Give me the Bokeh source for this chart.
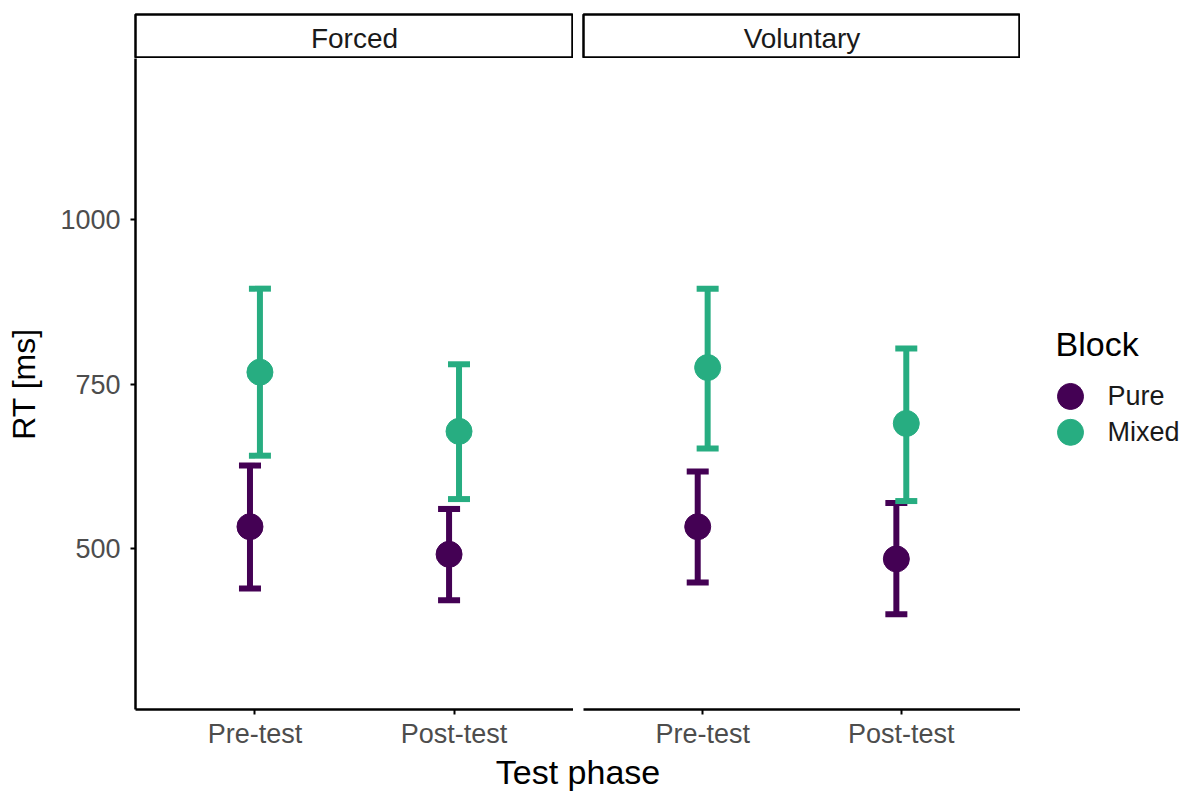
from bokeh.plotting import figure
from bokeh.models import (ColumnDataSource, Range1d, FactorRange, FixedTicker,
                          Whisker, TeeHead)
from bokeh.transform import dodge
from bokeh.layouts import column, row
from bokeh.embed import file_html
from bokeh.resources import INLINE
from bokeh.core.properties import value

# ---------------- data ----------------
phases = ["Pre-test", "Post-test"]
conditions = ["Forced", "Voluntary"]
blocks = ["Pure", "Mixed"]
block_colors = ["#440154", "#27AD81"]

forced_pure_mean = [533, 491]
forced_pure_lower = [439, 421]
forced_pure_upper = [626, 560]
forced_mixed_mean = [768, 678]
forced_mixed_lower = [641, 575]
forced_mixed_upper = [895, 780]

voluntary_pure_mean = [533, 484]
voluntary_pure_lower = [448, 400]
voluntary_pure_upper = [617, 569]
voluntary_mixed_mean = [775, 690]
voluntary_mixed_lower = [652, 572]
voluntary_mixed_upper = [895, 804]

y_ticks = [500, 750, 1000]
y_limits = [300, 1200]
x_title = "Test phase"
y_title = "RT [ms]"
legend_title = "Block"

series = {
    ("Forced", "Pure"): (forced_pure_mean, forced_pure_lower, forced_pure_upper),
    ("Forced", "Mixed"): (forced_mixed_mean, forced_mixed_lower, forced_mixed_upper),
    ("Voluntary", "Pure"): (voluntary_pure_mean, voluntary_pure_lower, voluntary_pure_upper),
    ("Voluntary", "Mixed"): (voluntary_mixed_mean, voluntary_mixed_lower, voluntary_mixed_upper),
}

# ---------------- layout / style ----------------
FONT = "Liberation Sans"
LEFT = 135
PANEL1_W = 438
GAP = 10
PANEL2_W = 437
RIGHT = 167
STRIP_TOP = 14
STRIP_H = 44
PANEL_H = 653
AXIS_H = 40
XLAB_H = 40
DODGE = {"Pure": -0.025, "Mixed": 0.025}
TICK_COL = "#4D4D4D"
MARKER = 26
# legend geometry (screen px inside the legend area)
LEG_X_TITLE = 35
LEG_X_KEY = 50
LEG_X_LABEL = 87
LEG_Y_FIRST = 339      # first key centre, px below the panel top
LEG_ROW = 36           # px between keys
LEG_TITLE_DY = -52     # title offset from first key, px

span = y_limits[1] - y_limits[0]
y_lo = y_limits[0] - 0.05 * span
y_hi = y_limits[1] + 0.05 * span


def make_strip(cond, first):
    w = LEFT + PANEL1_W if first else GAP + PANEL2_W
    s = figure(width=w, height=STRIP_TOP + STRIP_H,
               x_range=FactorRange(factors=[cond]), y_range=FactorRange(factors=[cond]),
               output_backend="svg", toolbar_location=None, title=None,
               x_axis_location=None, y_axis_location=None,
               min_border_left=LEFT if first else GAP,
               min_border_right=0, min_border_top=STRIP_TOP, min_border_bottom=0)
    s.grid.visible = False
    s.outline_line_color = "black"
    s.outline_line_width = 2.5
    s.text(x=[cond], y=[cond], text=[cond], text_align="center", text_baseline="middle",
           y_offset=2, text_font=value(FONT), text_font_size="28px", text_color="#1A1A1A")
    return s


def make_panel(cond, first):
    w = LEFT + PANEL1_W if first else GAP + PANEL2_W
    p = figure(width=w, height=PANEL_H + AXIS_H,
               x_range=FactorRange(factors=phases, range_padding=0.1,
                                   range_padding_units="absolute"),
               y_range=Range1d(y_lo, y_hi),
               output_backend="svg", toolbar_location=None, title=None,
               y_axis_location="left" if first else None,
               min_border_left=LEFT if first else GAP,
               min_border_right=0, min_border_top=0, min_border_bottom=AXIS_H)
    p.grid.visible = False
    p.outline_line_color = None

    for ax in p.xaxis + p.yaxis:
        ax.axis_line_width = 2.5
        ax.axis_line_color = "black"
        ax.major_tick_line_width = 2
        ax.major_tick_line_color = "black"
        ax.major_tick_out = 5
        ax.major_tick_in = 0
        ax.minor_tick_line_color = None
        ax.major_label_text_font = FONT
        ax.major_label_text_color = TICK_COL
        ax.major_label_text_font_size = "27px"
    p.xaxis.major_label_standoff = 4
    if first:
        p.yaxis.ticker = FixedTicker(ticks=y_ticks)
        p.yaxis.major_label_standoff = 10
        p.yaxis.axis_label = y_title
        p.yaxis.axis_label_text_font = FONT
        p.yaxis.axis_label_text_font_size = "32px"
        p.yaxis.axis_label_text_font_style = "normal"
        p.yaxis.axis_label_text_color = "black"
        p.yaxis.axis_label_standoff = 15

    for b, col in zip(blocks, block_colors):
        mean, lower, upper = series[(cond, b)]
        src = ColumnDataSource(dict(phase=phases, mean=mean, lower=lower, upper=upper))
        xpos = dodge("phase", DODGE[b], range=p.x_range)
        wh = Whisker(base=xpos, lower="lower", upper="upper", source=src,
                     dimension="height", line_color=col, line_width=6,
                     upper_head=TeeHead(size=22, line_color=col, line_width=6),
                     lower_head=TeeHead(size=22, line_color=col, line_width=6),
                     level="underlay")
        p.add_layout(wh)
        p.scatter(x=xpos, y="mean", source=src, size=MARKER,
                  fill_color=col, line_color=col)
    return p


def make_legend():
    # same borders as the panels so that the row keeps the frames aligned;
    # one y unit = one legend row, item i sits at y = i
    lg = figure(width=RIGHT, height=PANEL_H + AXIS_H,
                x_range=Range1d(0, RIGHT),
                y_range=Range1d((PANEL_H - LEG_Y_FIRST) / LEG_ROW, -LEG_Y_FIRST / LEG_ROW),
                output_backend="svg", toolbar_location=None, title=None,
                x_axis_location=None, y_axis_location=None,
                min_border_left=0, min_border_right=0,
                min_border_top=0, min_border_bottom=AXIS_H)
    lg.grid.visible = False
    lg.outline_line_color = None
    src = ColumnDataSource(dict(block=blocks, color=block_colors,
                                idx=list(range(len(blocks))),
                                kx=[LEG_X_KEY] * len(blocks),
                                lx=[LEG_X_LABEL] * len(blocks)))
    lg.scatter(x="kx", y="idx", source=src, size=MARKER,
               fill_color="color", line_color="color")
    lg.text(x="lx", y="idx", text="block", source=src, text_align="left",
            text_baseline="middle", text_font=value(FONT), text_font_size="27px",
            text_color="#1A1A1A")
    lg.text(x=[LEG_X_TITLE], y=[0], text=[legend_title], y_offset=LEG_TITLE_DY,
            text_align="left", text_baseline="middle", text_font=value(FONT),
            text_font_size="34px", text_color="black")
    return lg


strips = [make_strip(c, i == 0) for i, c in enumerate(conditions)]
panels = [make_panel(c, i == 0) for i, c in enumerate(conditions)]
legend_fig = make_legend()

xlab = figure(width=LEFT + PANEL1_W + GAP + PANEL2_W + RIGHT, height=XLAB_H,
              x_range=FactorRange(factors=[x_title]), y_range=FactorRange(factors=[x_title]),
              output_backend="svg", toolbar_location=None, title=None,
              x_axis_location=None, y_axis_location=None,
              min_border_left=LEFT, min_border_right=RIGHT,
              min_border_top=0, min_border_bottom=0)
xlab.grid.visible = False
xlab.outline_line_color = None
xlab.text(x=[x_title], y=[x_title], text=[x_title], text_align="center",
          text_baseline="middle", text_font=value(FONT), text_font_size="34px",
          text_color="black")

layout = column(row(*strips), row(*panels, legend_fig), xlab)

open("out.html", "w").write(file_html(layout, INLINE))
